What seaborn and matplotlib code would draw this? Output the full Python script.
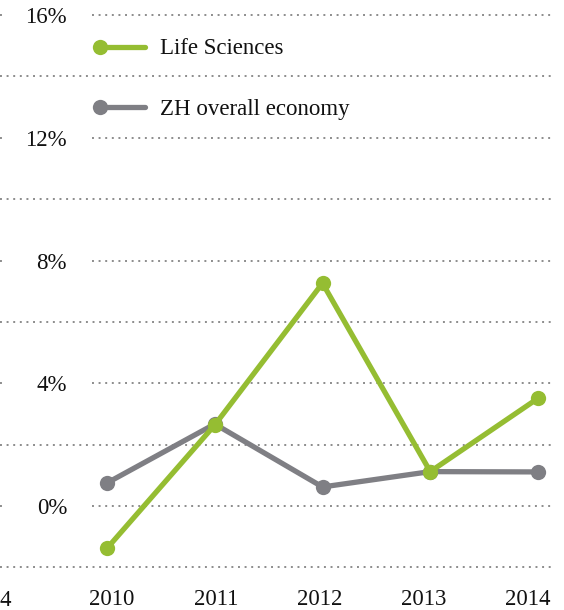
import matplotlib
matplotlib.use("Agg")
import matplotlib.pyplot as plt
import matplotlib.transforms as mtransforms
import seaborn as sns
import pandas as pd

# ---- data ----
years = [2010, 2011, 2012, 2013, 2014]
life_sciences = [-1.38, 2.64, 7.26, 1.12, 3.51]
zh_overall = [0.75, 2.67, 0.62, 1.12, 1.11]
series_names = ["ZH overall economy", "Life Sciences"]
y_ticks = [16, 12, 8, 4, 0]
y_minor_grid = [14, 10, 6, 2, -2]
y_tick_labels = ["16%", "12%", "8%", "4%", "0%"]
x_tick_labels = ["2010", "2011", "2012", "2013", "2014"]

df = pd.DataFrame({
    "year": years * 2,
    "value": zh_overall + life_sciences,
    "series": [series_names[0]] * len(years) + [series_names[1]] * len(years),
})

GREEN = "#95BD32"
GRAY = "#7F7F84"
GRID = "#8C8C8C"
TXT = "#111111"
FS = 16.5
W, H = 564, 610

sns.set_theme(style="white")
plt.rcParams["font.family"] = ["Liberation Serif", "DejaVu Serif"]

fig = plt.figure(figsize=(W / 100, H / 100), dpi=100)
ax = fig.add_axes([0, 0, 1, 1])

# axis scales (pixel layout of the reference)
ax.set_xlim(2009.007, 2014.241)
ax.set_ylim(-3.39, 16.49)

def px_x(p):
    return p / W

dot = (0, (1, 2.4))
# gridlines
for v in y_minor_grid:
    ax.axhline(v, xmin=0, xmax=px_x(551), color=GRID, lw=1.4,
               linestyle=dot, zorder=1)
trans = mtransforms.blended_transform_factory(ax.transAxes, ax.transData)
for v, lab in zip(y_ticks, y_tick_labels):
    ax.axhline(v, xmin=0, xmax=px_x(5), color=GRID, lw=1.4,
               linestyle=dot, zorder=1)
    ax.axhline(v, xmin=px_x(92), xmax=px_x(551), color=GRID, lw=1.4,
               linestyle=dot, zorder=1)
    ax.text(px_x(67), v, lab, transform=trans, ha="right",
            va="center_baseline", fontsize=FS, color=TXT)

# lines
sns.lineplot(data=df, x="year", y="value", hue="series",
             hue_order=series_names, palette=[GRAY, GREEN],
             marker="o", markersize=11, markeredgewidth=0,
             linewidth=3.8, legend=False, ax=ax, zorder=3)

ax.set_xticks([])
ax.set_yticks([])
ax.set_xlabel("")
ax.set_ylabel("")
for s in ax.spines.values():
    s.set_visible(False)

# x tick labels on a secondary scale
ax2 = ax.twiny()
ax2.set_position([0, 0, 1, 1])
ax2.set_xlim(2008.927, 2014.346)
ax2.xaxis.set_ticks_position("bottom")
ax2.set_xticks(years)
ax2.set_xticklabels(x_tick_labels, fontsize=FS, color=TXT)
ax2.tick_params(axis="x", length=0, pad=-15)
for s in ax2.spines.values():
    s.set_visible(False)
ax2.set_yticks([])

# trailing digit of the neighbouring panel's label at the left edge
fig.text(0, 1 - 598 / H, "4", ha="left", va="center_baseline",
         fontsize=FS, color=TXT)

# legend (manual, marker at left end of handle)
for (yy, col, lab) in [(46.5, GREEN, "Life Sciences"), (107, GRAY, "ZH overall economy")]:
    fy = 1 - yy / H
    ax.plot([100 / W, 145 / W], [fy, fy], transform=ax.transAxes, color=col,
            lw=3.8, solid_capstyle="round", zorder=4)
    ax.plot([100 / W], [fy], transform=ax.transAxes, color=col, marker="o",
            markersize=11, markeredgewidth=0, zorder=5)
    ax.text(160 / W, fy, lab, transform=ax.transAxes, ha="left",
            va="center_baseline", fontsize=FS, color=TXT)

fig.savefig("out.png", dpi=100)
